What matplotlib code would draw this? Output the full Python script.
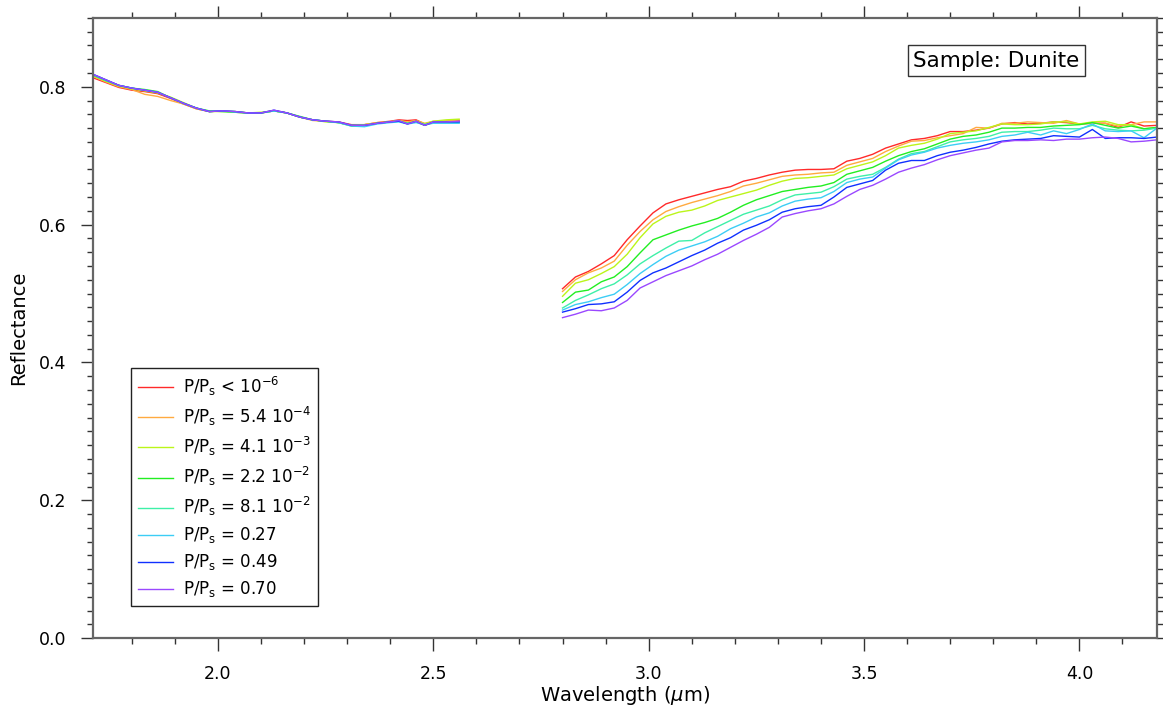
import matplotlib
matplotlib.use("Agg")
import matplotlib.pyplot as plt
from matplotlib.ticker import MultipleLocator

# short-wavelength segment (all pressures nearly identical)
x1 = [1.71, 1.74, 1.77, 1.80, 1.83, 1.86, 1.89, 1.92, 1.95, 1.98, 2.01, 2.04, 2.07, 2.10, 2.13, 2.16,
      2.19, 2.22, 2.25, 2.28, 2.31, 2.34, 2.37, 2.40, 2.42, 2.44, 2.46, 2.48, 2.50, 2.53, 2.56]

red_1 = [0.813, 0.806, 0.799, 0.795, 0.793, 0.790, 0.783, 0.775, 0.768, 0.764, 0.765, 0.763, 0.762, 0.762, 0.765, 0.762,
         0.756, 0.752, 0.750, 0.749, 0.745, 0.745, 0.748, 0.750, 0.752, 0.751, 0.752, 0.746, 0.749, 0.750, 0.751]
orange_1 = [0.815, 0.807, 0.800, 0.796, 0.789, 0.786, 0.780, 0.775, 0.768, 0.764, 0.765, 0.764, 0.762, 0.762, 0.765, 0.762,
            0.756, 0.751, 0.750, 0.748, 0.744, 0.745, 0.748, 0.749, 0.751, 0.749, 0.751, 0.747, 0.750, 0.750, 0.752]
yellow_1 = [0.816, 0.808, 0.801, 0.797, 0.794, 0.791, 0.785, 0.777, 0.769, 0.764, 0.764, 0.764, 0.762, 0.763, 0.765, 0.762,
            0.756, 0.752, 0.749, 0.748, 0.744, 0.745, 0.747, 0.749, 0.751, 0.747, 0.750, 0.746, 0.750, 0.752, 0.753]
green_1 = [0.817, 0.809, 0.802, 0.798, 0.796, 0.793, 0.784, 0.776, 0.769, 0.765, 0.764, 0.763, 0.762, 0.762, 0.765, 0.762,
           0.757, 0.752, 0.750, 0.748, 0.743, 0.743, 0.747, 0.749, 0.750, 0.747, 0.749, 0.744, 0.748, 0.749, 0.749]
teal_1 = [0.817, 0.809, 0.802, 0.798, 0.795, 0.792, 0.784, 0.776, 0.769, 0.764, 0.765, 0.763, 0.762, 0.762, 0.765, 0.762,
          0.756, 0.752, 0.750, 0.748, 0.744, 0.744, 0.747, 0.749, 0.750, 0.747, 0.749, 0.745, 0.748, 0.748, 0.748]
cyan_1 = [0.818, 0.810, 0.802, 0.798, 0.795, 0.792, 0.784, 0.776, 0.769, 0.764, 0.765, 0.764, 0.762, 0.762, 0.765, 0.762,
          0.756, 0.752, 0.750, 0.748, 0.743, 0.742, 0.746, 0.748, 0.749, 0.746, 0.748, 0.745, 0.747, 0.747, 0.747]
blue_1 = [0.818, 0.810, 0.802, 0.798, 0.795, 0.792, 0.784, 0.776, 0.769, 0.764, 0.765, 0.764, 0.762, 0.762, 0.766, 0.762,
          0.756, 0.752, 0.750, 0.749, 0.744, 0.744, 0.747, 0.749, 0.750, 0.746, 0.750, 0.744, 0.749, 0.749, 0.749]
violet_1 = [0.818, 0.810, 0.802, 0.798, 0.795, 0.792, 0.784, 0.776, 0.769, 0.764, 0.765, 0.764, 0.762, 0.762, 0.766, 0.762,
            0.756, 0.752, 0.750, 0.749, 0.744, 0.744, 0.747, 0.749, 0.751, 0.746, 0.750, 0.744, 0.749, 0.749, 0.750]

# 3 um band segment
x2 = [2.80, 2.83, 2.86, 2.89, 2.92, 2.95, 2.98, 3.01, 3.04, 3.07, 3.10, 3.13, 3.16, 3.19, 3.22, 3.25,
      3.28, 3.31, 3.34, 3.37, 3.40, 3.43, 3.46, 3.49, 3.52, 3.55, 3.58, 3.61, 3.64, 3.67, 3.70, 3.73,
      3.76, 3.79, 3.82, 3.85, 3.88, 3.91, 3.94, 3.97, 4.00, 4.03, 4.06, 4.09, 4.12, 4.15, 4.18]

red_2 = [0.507, 0.524, 0.532, 0.543, 0.555, 0.578, 0.598, 0.617, 0.630, 0.636, 0.641, 0.646, 0.651, 0.655, 0.663, 0.667,
         0.672, 0.676, 0.679, 0.680, 0.680, 0.681, 0.692, 0.696, 0.702, 0.711, 0.717, 0.723, 0.725, 0.729, 0.735, 0.735,
         0.737, 0.740, 0.746, 0.748, 0.746, 0.747, 0.749, 0.748, 0.746, 0.747, 0.747, 0.741, 0.749, 0.743, 0.744]
orange_2 = [0.503, 0.520, 0.530, 0.537, 0.547, 0.570, 0.590, 0.607, 0.619, 0.626, 0.632, 0.637, 0.642, 0.648, 0.656, 0.660,
            0.665, 0.670, 0.672, 0.673, 0.675, 0.676, 0.686, 0.691, 0.696, 0.706, 0.714, 0.721, 0.722, 0.726, 0.729, 0.732,
            0.741, 0.740, 0.747, 0.747, 0.749, 0.748, 0.747, 0.751, 0.746, 0.747, 0.747, 0.743, 0.745, 0.749, 0.749]
yellow_2 = [0.496, 0.515, 0.520, 0.529, 0.539, 0.557, 0.581, 0.601, 0.612, 0.618, 0.621, 0.627, 0.635, 0.640, 0.645, 0.650,
            0.657, 0.663, 0.667, 0.668, 0.670, 0.672, 0.681, 0.686, 0.691, 0.700, 0.711, 0.715, 0.718, 0.724, 0.732, 0.734,
            0.736, 0.741, 0.746, 0.745, 0.745, 0.746, 0.749, 0.749, 0.746, 0.749, 0.750, 0.745, 0.745, 0.739, 0.741]
green_2 = [0.487, 0.502, 0.505, 0.517, 0.524, 0.539, 0.559, 0.578, 0.585, 0.592, 0.598, 0.603, 0.609, 0.618, 0.628, 0.636,
           0.642, 0.648, 0.651, 0.654, 0.656, 0.661, 0.673, 0.678, 0.683, 0.692, 0.700, 0.706, 0.710, 0.717, 0.724, 0.728,
           0.730, 0.734, 0.740, 0.740, 0.741, 0.741, 0.743, 0.744, 0.745, 0.748, 0.744, 0.740, 0.743, 0.739, 0.741]
teal_2 = [0.479, 0.490, 0.498, 0.507, 0.514, 0.527, 0.543, 0.555, 0.566, 0.576, 0.577, 0.588, 0.597, 0.606, 0.615, 0.621,
          0.627, 0.636, 0.643, 0.645, 0.647, 0.655, 0.666, 0.670, 0.673, 0.683, 0.695, 0.703, 0.706, 0.713, 0.720, 0.723,
          0.725, 0.728, 0.734, 0.735, 0.735, 0.737, 0.740, 0.739, 0.739, 0.744, 0.739, 0.737, 0.736, 0.737, 0.740]
cyan_2 = [0.476, 0.484, 0.488, 0.494, 0.499, 0.513, 0.529, 0.542, 0.554, 0.563, 0.569, 0.575, 0.583, 0.594, 0.602, 0.611,
          0.617, 0.627, 0.634, 0.637, 0.639, 0.648, 0.661, 0.666, 0.669, 0.682, 0.694, 0.701, 0.705, 0.711, 0.715, 0.718,
          0.720, 0.723, 0.728, 0.730, 0.734, 0.730, 0.736, 0.732, 0.738, 0.746, 0.736, 0.735, 0.736, 0.726, 0.740]
blue_2 = [0.473, 0.478, 0.484, 0.485, 0.488, 0.502, 0.519, 0.530, 0.537, 0.546, 0.555, 0.563, 0.573, 0.581, 0.592, 0.599,
          0.607, 0.618, 0.623, 0.626, 0.628, 0.640, 0.654, 0.659, 0.664, 0.679, 0.689, 0.693, 0.693, 0.700, 0.705, 0.708,
          0.712, 0.717, 0.721, 0.723, 0.724, 0.725, 0.729, 0.728, 0.727, 0.738, 0.725, 0.726, 0.726, 0.725, 0.727]
violet_2 = [0.465, 0.470, 0.476, 0.475, 0.479, 0.490, 0.508, 0.517, 0.526, 0.533, 0.540, 0.549, 0.557, 0.567, 0.577, 0.586,
            0.596, 0.611, 0.616, 0.620, 0.623, 0.630, 0.641, 0.651, 0.657, 0.666, 0.676, 0.682, 0.687, 0.694, 0.700, 0.704,
            0.708, 0.711, 0.720, 0.722, 0.722, 0.723, 0.722, 0.724, 0.724, 0.726, 0.727, 0.725, 0.720, 0.721, 0.723]

labels = [r'P/P$_\mathregular{s}$ < 10$^\mathregular{-6}$',
          r'P/P$_\mathregular{s}$ = 5.4 10$^\mathregular{-4}$',
          r'P/P$_\mathregular{s}$ = 4.1 10$^\mathregular{-3}$',
          r'P/P$_\mathregular{s}$ = 2.2 10$^\mathregular{-2}$',
          r'P/P$_\mathregular{s}$ = 8.1 10$^\mathregular{-2}$',
          r'P/P$_\mathregular{s}$ = 0.27',
          r'P/P$_\mathregular{s}$ = 0.49',
          r'P/P$_\mathregular{s}$ = 0.70']
colors = ['#ff2a2a', '#ffaa40', '#bbf51a', '#22ee22', '#3ef0a8', '#3ccdf5', '#1030ff', '#9a48ff']

seg1 = [red_1, orange_1, yellow_1, green_1, teal_1, cyan_1, blue_1, violet_1]
seg2 = [red_2, orange_2, yellow_2, green_2, teal_2, cyan_2, blue_2, violet_2]

plt.rcParams['font.family'] = 'DejaVu Sans'
plt.rcParams['mathtext.fontset'] = 'dejavusans'

fig = plt.figure(figsize=(11.63, 7.13), dpi=100)
ax = fig.add_axes([0.080, 0.105, 0.9148, 0.870])

for y1, y2, c, lab in zip(seg1, seg2, colors, labels):
    ax.plot(x1, y1, color=c, lw=1.0, label=lab)
    ax.plot(x2, y2, color=c, lw=1.0)

ax.set_xlim(1.71, 4.18)
ax.set_ylim(0.0, 0.9)
ax.xaxis.set_major_locator(MultipleLocator(0.5))
ax.xaxis.set_minor_locator(MultipleLocator(0.1))
ax.yaxis.set_major_locator(MultipleLocator(0.2))
ax.yaxis.set_minor_locator(MultipleLocator(0.02))
ax.xaxis.set_major_formatter(matplotlib.ticker.FormatStrFormatter('%.1f'))
ax.yaxis.set_major_formatter(matplotlib.ticker.FormatStrFormatter('%.1f'))

ax.tick_params(which='both', direction='out', top=True, right=True, color='#333333',
               labelsize=12.5, width=1.0)
ax.tick_params(which='major', length=9, pad=10)
ax.tick_params(which='minor', length=4.5)
for s in ax.spines.values():
    s.set_color('#666666')
    s.set_linewidth(1.6)

ax.set_xlabel(r'Wavelength ($\mu$m)', fontsize=14, labelpad=1)
ax.set_ylabel('Reflectance', fontsize=14, labelpad=8)

ax.text(0.849, 0.931, 'Sample: Dunite', transform=ax.transAxes, fontsize=15.5,
        ha='center', va='center',
        bbox=dict(boxstyle='square,pad=0.25', facecolor='white', edgecolor='#333333', linewidth=1.0))

leg = ax.legend(loc='lower left', bbox_to_anchor=(0.0357, 0.0516), borderaxespad=0,
                fontsize=12, handlelength=2.1, handletextpad=0.6, labelspacing=0.42,
                fancybox=False, framealpha=1, edgecolor='#222222', borderpad=0.4)
leg.get_frame().set_linewidth(1.0)

fig.savefig('out.png', dpi=100)
